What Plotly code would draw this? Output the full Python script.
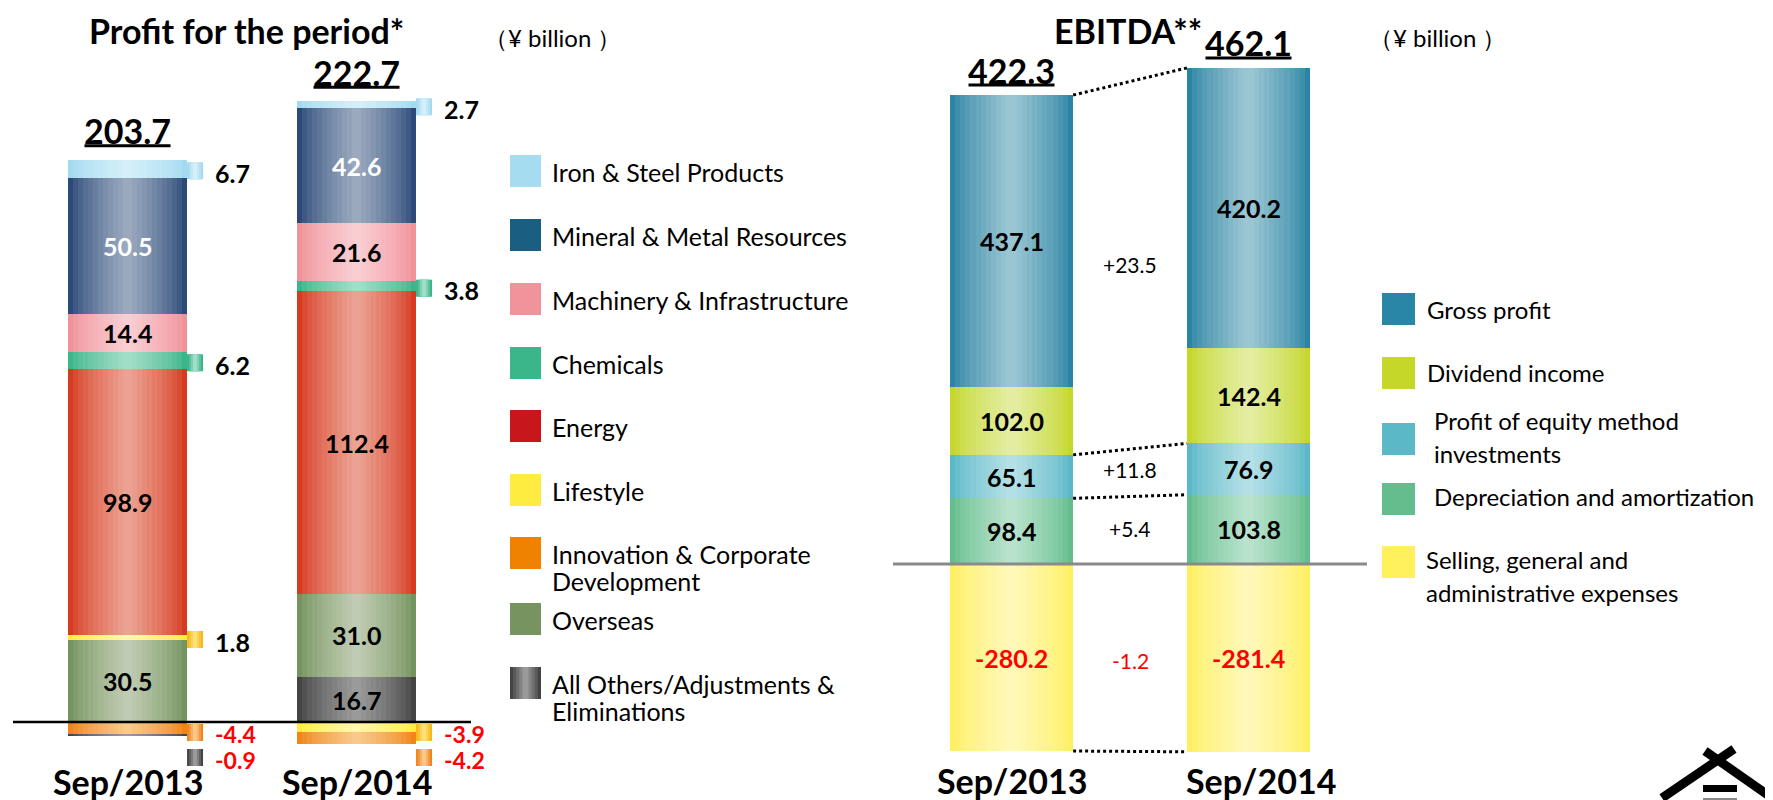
import plotly.graph_objects as go

W, H = 1773, 800
OFF = 8  # page body margin compensation
FONT = "Lato, 'Open Sans', sans-serif"

# ---------------- data ----------------
periods = ["Sep/2013", "Sep/2014"]

segments = ["Iron & Steel Products", "Mineral & Metal Resources", "Machinery & Infrastructure",
            "Chemicals", "Energy", "Lifestyle", "Innovation & Corporate Development",
            "Overseas", "All Others/Adjustments & Eliminations"]
profit_2013 = [6.7, 50.5, 14.4, 6.2, 98.9, 1.8, -4.4, 30.5, -0.9]
profit_2014 = [2.7, 42.6, 21.6, 3.8, 112.4, -3.9, -4.2, 31.0, 16.7]
profit_totals = [203.7, 222.7]
segment_legend_lines = [["Iron & Steel Products"], ["Mineral & Metal Resources"],
                        ["Machinery & Infrastructure"], ["Chemicals"], ["Energy"], ["Lifestyle"],
                        ["Innovation & Corporate", "Development"], ["Overseas"],
                        ["All Others/Adjustments &", "Eliminations"]]

components = ["Gross profit", "Dividend income", "Profit of equity method investments",
              "Depreciation and amortization", "Selling, general and administrative expenses"]
ebitda_2013 = [437.1, 102.0, 65.1, 98.4, -280.2]
ebitda_2014 = [420.2, 142.4, 76.9, 103.8, -281.4]
ebitda_totals = [422.3, 462.1]
ebitda_changes = ["+23.5", "+11.8", "+5.4", "-1.2"]
component_legend_lines = [["Gross profit"], ["Dividend income"],
                          ["Profit of equity method", "investments"],
                          ["Depreciation and amortization"],
                          ["Selling, general and", "administrative expenses"]]

# ---------------- styles ----------------
seg_colors = [("#a4daf0", "#d4eff9"), ("#2c4a78", "#9ba9bf"), ("#f0929a", "#f9cdd2"),
              ("#3bb58a", "#a2ddc7"), ("#d63a20", "#eca293"), ("#ffee40", "#fff7aa"),
              ("#f08518", "#f8c98a"), ("#75935e", "#bfcbb2"), ("#444444", "#9a9a9a")]
tab_colors = [("#a4daf0", "#d4eff9"), ("#2c4a78", "#9ba9bf"), ("#f0929a", "#f9cdd2"),
              ("#3bb58a", "#a2ddc7"), ("#d63a20", "#eca293"), ("#f6b818", "#fde07a"),
              ("#f08518", "#f8c98a"), ("#75935e", "#bfcbb2"), ("#444444", "#9a9a9a")]
seg_legend_colors = ["#a6dcf0", "#1a5f82", "#f1939b", "#3bb58a", "#c8161d", "#ffec40",
                     "#ef8200", "#77935f", None]
comp_colors = [("#2b84a3", "#9ac5d3"), ("#c5d72b", "#e3eca0"), ("#5ab8c7", "#b3dfe6"),
               ("#63bd8c", "#b8e2cb"), ("#fff060", "#fff8b8")]
comp_legend_colors = ["#2a86a6", "#c5d82a", "#5bb8c7", "#63bd8c", "#fff05c"]

# pixel geometry (in reference-image pixels) of the two plot areas
TOP, BOT = 20, 790
L_X0, L_X1 = 13, 471
R_X0, R_X1 = 893, 1367
L_ZERO, L_SCALE = 722, 2.69
R_ZERO, R_SCALE = 564, 0.6674
BW = 0.52
N_STRIPS = 12
VAL_SIZE = 25


def hex2rgb(h):
    h = h.lstrip("#")
    return [int(h[i:i + 2], 16) for i in (0, 2, 4)]


def lerp(c1, c2, t):
    a, b = hex2rgb(c1), hex2rgb(c2)
    return "rgb(%d,%d,%d)" % tuple(round(a[i] + (b[i] - a[i]) * t) for i in range(3))


def px(x):
    return (x - OFF) / W


def py(y):
    return 1 - (y - OFF) / H


def stack(vals_by_year, pos_order, neg_order):
    n = len(vals_by_year[0])
    bases = [[0.0, 0.0] for _ in range(n)]
    tops = []
    for yi, vals in enumerate(vals_by_year):
        cum = 0.0
        for i in pos_order:
            if vals[i] > 0:
                bases[i][yi] = cum
                cum += vals[i]
        tops.append(cum)
        cum = 0.0
        for i in neg_order:
            if vals[i] < 0:
                bases[i][yi] = cum
                cum += vals[i]
    return bases, tops


fig = go.Figure()

left_vals = [profit_2013, profit_2014]
n_seg = len(segments)
l_bases, l_tops = stack(left_vals, list(reversed(range(n_seg))), list(range(n_seg)))

right_vals = [ebitda_2013, ebitda_2014]
n_comp = len(components)
r_bases, r_tops = stack(right_vals, list(reversed(range(n_comp))), list(range(n_comp)))


def add_gradient_bars(vals_by_year, bases, colors, names, xa, ya):
    for i in range(len(vals_by_year[0])):
        edge, center = colors[i]
        for k in range(N_STRIPS):
            t = (k / (N_STRIPS - 1)) ** 0.75
            fig.add_trace(go.Bar(
                name=names[i],
                x=[0, 1], y=[vals_by_year[0][i], vals_by_year[1][i]],
                base=[bases[i][0], bases[i][1]], width=BW * (1 - k / N_STRIPS),
                marker=dict(color=lerp(edge, center, t), line=dict(width=0)),
                xaxis=xa, yaxis=ya, hoverinfo="skip", showlegend=False))


add_gradient_bars(left_vals, l_bases, seg_colors, segments, "x", "y")
add_gradient_bars(right_vals, r_bases, comp_colors, components, "x2", "y2")

ann = []
shapes = []


def text(x, y, s, size, color="black", bold=False, xanchor="center", xref="paper", yref="paper",
         yanchor="middle"):
    ann.append(dict(x=x, y=y, xref=xref, yref=yref, text=("<b>%s</b>" % s) if bold else s,
                    showarrow=False, xanchor=xanchor, yanchor=yanchor,
                    font=dict(family=FONT, size=size, color=color)))


def fmt(v):
    return "%.1f" % v


def ly(ypx):
    return (L_ZERO - ypx) / L_SCALE


def ry(ypx):
    return (R_ZERO - ypx) / R_SCALE


# ---------- left chart labels ----------
LX_PER_PX = 2.0 / (L_X1 - L_X0)
for yi in range(2):
    neg_count = 0
    for i in range(n_seg):
        v = left_vals[yi][i]
        if v == 0:
            continue
        b = l_bases[i][yi]
        if abs(v) >= 10:
            col = "white" if i == 1 else "black"
            text(yi, b + v / 2, fmt(v), VAL_SIZE, col, True, xref="x", yref="y")
        else:
            if v > 0:
                cy_px = L_ZERO - (b + v / 2) * L_SCALE + 2
                lab_px = cy_px + 2
                size = VAL_SIZE
            else:
                cy_px = L_ZERO + 10.5 + 25 * neg_count
                lab_px = L_ZERO + 12 + 26 * neg_count
                neg_count += 1
                size = 23
            x0 = yi + BW / 2
            x1 = x0 + 16 * LX_PER_PX
            edge, center = tab_colors[i]
            for k in range(4):
                f = k / 4
                shapes.append(dict(type="rect", xref="x", yref="y", layer="below",
                                   x0=x0 + (x1 - x0) * f / 2, x1=x1 - (x1 - x0) * f / 2,
                                   y0=ly(cy_px - 8.5), y1=ly(cy_px + 8.5),
                                   fillcolor=lerp(edge, center, k / 3), line=dict(width=0)))
            text(x1 + 10 * LX_PER_PX, ly(lab_px), fmt(v), size,
                 "#ff0000" if v < 0 else "black", True, xanchor="left", xref="x", yref="y")
    # total with underline
    ty_px = L_ZERO - l_tops[yi] * L_SCALE - 29
    text(yi, ly(ty_px), fmt(profit_totals[yi]), 34, "black", True, xref="x", yref="y")
    shapes.append(dict(type="line", xref="x", yref="y",
                       x0=yi - 43 * LX_PER_PX, x1=yi + 43 * LX_PER_PX,
                       y0=ly(ty_px + 15), y1=ly(ty_px + 15),
                       line=dict(color="black", width=3)))
    text(yi, ly(781), periods[yi], 34, "black", True, xref="x", yref="y")

# zero line left
shapes.append(dict(type="line", xref="x", yref="y", x0=-0.5, x1=1.5, y0=0, y1=0,
                   line=dict(color="black", width=2.5)))

# ---------- right chart labels ----------
RX_PER_PX = 2.0 / (R_X1 - R_X0)
cat_dx = [0, 12]
for yi in range(2):
    for i in range(n_comp):
        v = right_vals[yi][i]
        b = r_bases[i][yi]
        text(yi, b + v / 2, fmt(v), VAL_SIZE, "#ff0000" if v < 0 else "black", True,
             xref="x2", yref="y2")
    ty_px = R_ZERO - r_tops[yi] * R_SCALE - 25
    text(yi, ry(ty_px), fmt(ebitda_totals[yi]), 34, "black", True, xref="x2", yref="y2")
    shapes.append(dict(type="line", xref="x2", yref="y2",
                       x0=yi - 43 * RX_PER_PX, x1=yi + 43 * RX_PER_PX,
                       y0=ry(ty_px + 15), y1=ry(ty_px + 15),
                       line=dict(color="black", width=3)))
    text(yi + cat_dx[yi] * RX_PER_PX, ry(780), periods[yi], 34, "black", True,
         xref="x2", yref="y2")

shapes.append(dict(type="line", xref="x2", yref="y2", x0=-0.5, x1=1.5, y0=0, y1=0,
                   line=dict(color="#8a8a8a", width=3)))

# dotted connectors: total top, dividend bottom, D&A top, SG&A bottom
conn = [(r_tops[0], r_tops[1]),
        (r_bases[1][0], r_bases[1][1]),
        (r_bases[2][0], r_bases[2][1]),
        (r_bases[4][0] + ebitda_2013[4], r_bases[4][1] + ebitda_2014[4])]
for y0, y1 in conn:
    shapes.append(dict(type="line", xref="x2", yref="y2", x0=BW / 2, x1=1 - BW / 2, y0=y0, y1=y1,
                       line=dict(color="black", width=3, dash="dot")))

# change labels between the bars
chg_pos = [(r_bases[1][0] + r_tops[0]) / 2 + 15,
           r_bases[2][0] + ebitda_2013[2] / 2 + 10,
           r_bases[3][0] + ebitda_2013[3] / 2 + 4,
           ebitda_2013[4] / 2 - 4]
for s, yv in zip(ebitda_changes, chg_pos):
    text(0.5, yv, s, 21, "#ff0000" if s.startswith("-") else "black", False, xref="x2", yref="y2")

# ---------- titles ----------
text(px(247), 1.0, "Profit for the period*", 34, "black", True, yanchor="top")
text(px(553), py(38), "（¥ billion ）", 24, "black", False)
text(px(1128), 1.0, "EBITDA**", 34, "black", True, yanchor="top")
text(px(1438), py(38), "（¥ billion ）", 24, "black", False)

# ---------- legends ----------
seg_leg_y = [171, 235, 299, 363, 426, 490, 553, 619, 683]
for i, lines in enumerate(segment_legend_lines):
    cy = seg_leg_y[i]
    if seg_legend_colors[i] is not None:
        shapes.append(dict(type="rect", xref="paper", yref="paper", x0=px(510), x1=px(541),
                           y0=py(cy - 16), y1=py(cy + 16), fillcolor=seg_legend_colors[i],
                           line=dict(width=0)))
    else:
        edge, center = seg_colors[i]
        for k in range(5):
            f = k / 5
            shapes.append(dict(type="rect", xref="paper", yref="paper",
                               x0=px(510 + 15.5 * f), x1=px(541 - 15.5 * f),
                               y0=py(cy - 16), y1=py(cy + 16), fillcolor=lerp(edge, center, k / 4),
                               line=dict(width=0)))
    for j, line in enumerate(lines):
        text(px(550), py(cy + 1 + 27 * j), line, 25, "black", False, xanchor="left")

comp_leg_y = [309, 373, 439, 499, 562]
comp_text_y = [[309], [372], [420, 453], [497], [559, 592]]
comp_text_x = [1425, 1425, 1432, 1432, 1424]
for i, lines in enumerate(component_legend_lines):
    cy = comp_leg_y[i]
    shapes.append(dict(type="rect", xref="paper", yref="paper", x0=px(1382), x1=px(1415),
                       y0=py(cy - 16), y1=py(cy + 16), fillcolor=comp_legend_colors[i],
                       line=dict(width=0)))
    for j, line in enumerate(lines):
        text(px(comp_text_x[i]), py(comp_text_y[i][j]), line, 24, "black", False, xanchor="left")

# ---------- logo (partial, bottom right) ----------
for (x0, y0, x1, y1) in [(1662, 798, 1734, 749), (1705, 751, 1775, 800)]:
    shapes.append(dict(type="line", xref="paper", yref="paper", x0=px(x0), y0=py(y0),
                       x1=px(x1), y1=py(y1), line=dict(color="black", width=9)))
shapes.append(dict(type="rect", xref="paper", yref="paper", x0=px(1703), x1=px(1737),
                   y0=py(785), y1=py(792), fillcolor="black", line=dict(width=0)))
shapes.append(dict(type="rect", xref="paper", yref="paper", x0=px(1703), x1=px(1737),
                   y0=py(798), y1=py(800), fillcolor="#888888", line=dict(width=0)))

# ---------- axes ----------
ax_common = dict(showgrid=False, zeroline=False, showticklabels=False, ticks="",
                 showline=False, fixedrange=True)
fig.update_layout(
    width=W, height=H, margin=dict(l=0, r=0, t=0, b=0),
    paper_bgcolor="white", plot_bgcolor="rgba(0,0,0,0)",
    barmode="overlay", bargap=0,
    xaxis=dict(domain=[px(L_X0), px(L_X1)], range=[-0.5, 1.5], **ax_common),
    yaxis=dict(domain=[py(BOT), py(TOP)], range=[ly(BOT), ly(TOP)], **ax_common),
    xaxis2=dict(domain=[px(R_X0), px(R_X1)], range=[-0.5, 1.5], anchor="y2", **ax_common),
    yaxis2=dict(domain=[py(BOT), py(TOP)], anchor="x2", range=[ry(BOT), ry(TOP)], **ax_common),
    annotations=ann, shapes=shapes, showlegend=False,
    font=dict(family=FONT),
)

fig.write_html("out.html")
